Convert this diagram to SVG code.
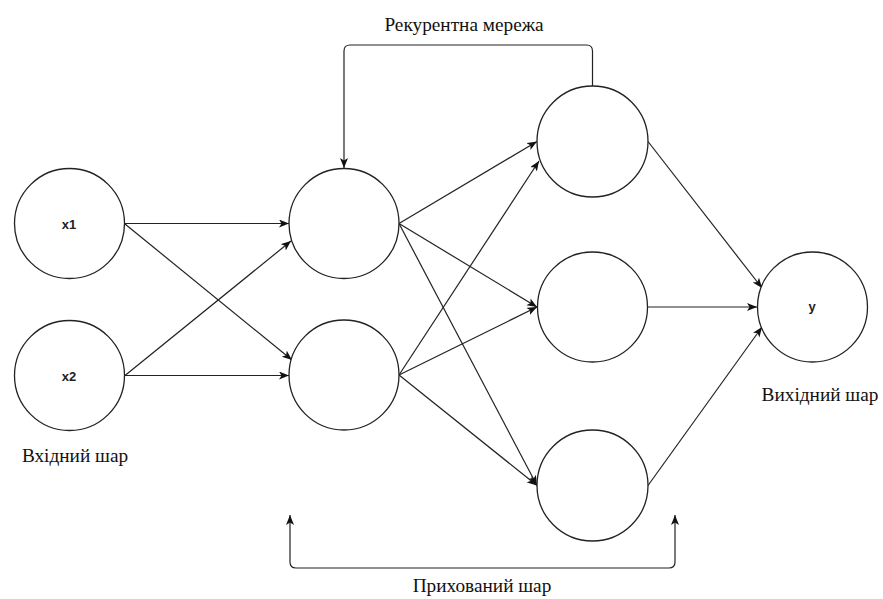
<svg xmlns="http://www.w3.org/2000/svg" width="883" height="599" viewBox="0 0 883 599">
<style>
.node{fill:#ffffff;stroke:#222222;stroke-width:1.3}
.edge{fill:none;stroke:#222222;stroke-width:1.2}
.lbl{font-family:"Liberation Sans",Arial,sans-serif;font-weight:bold;font-size:13px;fill:#222222;text-anchor:middle}
.cap{font-family:"Liberation Serif","Times New Roman",serif;font-size:19.3px;fill:#111111;text-anchor:middle}
</style>
<defs>
<marker id="arr" markerUnits="userSpaceOnUse" markerWidth="11" markerHeight="9" refX="10" refY="4" orient="auto-start-reverse">
<path d="M0,0 L10,4 L0,8 L2.5,4 z" fill="#111111"/>
</marker>
</defs>
<rect width="883" height="599" fill="#ffffff"/>
<g id="connectors">
<path class="edge" d="M125,223.5 L289,223.5" marker-end="url(#arr)"/>
<path class="edge" d="M125,224 L292,360" marker-end="url(#arr)"/>
<path class="edge" d="M125,375.5 L291,241" marker-end="url(#arr)"/>
<path class="edge" d="M125,375.5 L289,375.5" marker-end="url(#arr)"/>
<path class="edge" d="M399,223.5 L537,141.5" marker-end="url(#arr)"/>
<path class="edge" d="M399,223.5 L537,307" marker-end="url(#arr)"/>
<path class="edge" d="M399,223.5 L537,485.5" marker-end="url(#arr)"/>
<path class="edge" d="M399,375 L539,161" marker-end="url(#arr)"/>
<path class="edge" d="M399,375 L537,307" marker-end="url(#arr)"/>
<path class="edge" d="M399,375 L537,485.5" marker-end="url(#arr)"/>
<path class="edge" d="M648,141.5 L762,288" marker-end="url(#arr)"/>
<path class="edge" d="M648,307 L757,307" marker-end="url(#arr)"/>
<path class="edge" d="M648,485.5 L762,327" marker-end="url(#arr)"/>
<path class="edge" d="M592.5,86 L592.5,51 Q592.5,45 586.5,45 L350,45 Q344,45 344,51 L344,168" marker-end="url(#arr)"/>
<path class="edge" d="M290,515 L290,562 Q290,568 296,568 L669,568 Q675,568 675,562 L675,515" marker-start="url(#arr)" marker-end="url(#arr)"/>
</g>
<g id="x1"><circle class="node" cx="69.5" cy="223.5" r="55"/><text class="lbl" x="69" y="228.5">x1</text></g>
<g id="x2"><circle class="node" cx="69.5" cy="375.5" r="55"/><text class="lbl" x="69" y="380.5">x2</text></g>
<g id="h1a"><circle class="node" cx="344" cy="223.5" r="55"/></g>
<g id="h1b"><circle class="node" cx="344" cy="375" r="55"/></g>
<g id="h2a"><circle class="node" cx="592.5" cy="141.5" r="55.5"/></g>
<g id="h2b"><circle class="node" cx="592.5" cy="307" r="55"/></g>
<g id="h2c"><circle class="node" cx="592.5" cy="485.5" r="55.5"/></g>
<g id="y"><circle class="node" cx="812.5" cy="307" r="55"/><text class="lbl" x="812" y="311">y</text></g>
<g id="labels">
<text class="cap" x="464" y="31">Рекурентна мережа</text>
<text class="cap" x="75" y="462">Вхідний шар</text>
<text class="cap" x="820" y="401">Вихідний шар</text>
<text class="cap" x="482" y="592">Прихований шар</text>
</g>
</svg>
